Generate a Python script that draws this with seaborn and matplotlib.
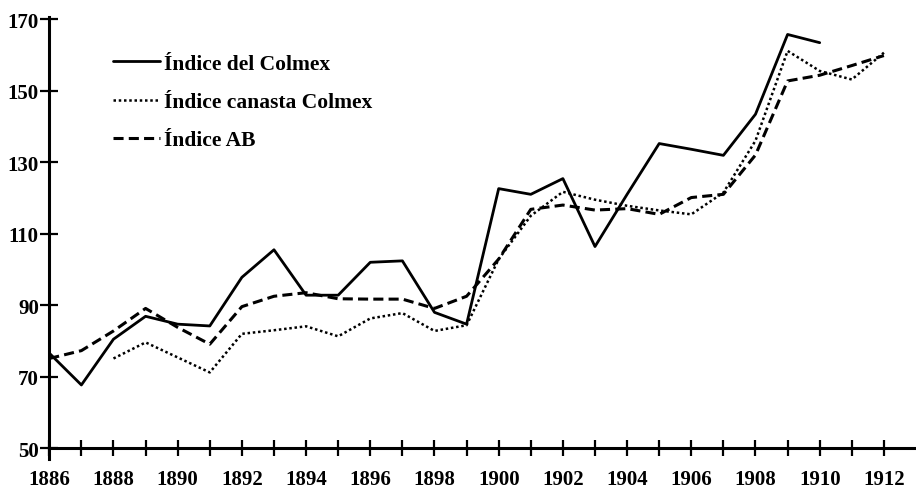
import matplotlib
matplotlib.use('Agg')

import seaborn as sns
import pandas as pd
import matplotlib.pyplot as plt

# values
years_colmex = list(range(1886, 1911))
indice_colmex = [76.6, 67.7, 80.5, 86.9, 84.7, 84.2, 97.8, 105.5, 92.8, 92.8,
                 102.0, 102.4, 88.0, 84.7, 122.6, 121.0, 125.4, 106.4, 121.0, 135.2,
                 133.6, 131.9, 143.4, 165.7, 163.4]

years_canasta = list(range(1888, 1913))
indice_canasta = [75.1, 79.6, 75.4, 71.2, 82.0, 83.0, 84.1, 81.3, 86.3, 87.8,
                  82.8, 84.4, 102.9, 115.0, 121.7, 119.5, 117.8, 116.5, 115.4, 121.5,
                  136.0, 161.1, 155.5, 153.1, 160.6]

years_ab = list(range(1886, 1913))
indice_ab = [75.1, 77.3, 82.8, 89.1, 83.8, 79.1, 89.6, 92.5, 93.5, 91.8,
             91.7, 91.7, 89.1, 92.5, 102.9, 116.8, 118.0, 116.6, 117.0, 115.4,
             120.1, 121.0, 132.0, 152.7, 154.3, 157.0, 159.8]

labels = ["Índice del Colmex", "Índice canasta Colmex", "Índice AB"]
y_ticks = [50, 70, 90, 110, 130, 150, 170]
x_ticks = list(range(1886, 1913))

sns.set_style("white")
plt.rcParams['font.family'] = ['Liberation Serif', 'DejaVu Serif']
plt.rcParams['font.weight'] = 'bold'
plt.rcParams['text.color'] = 'black'

fig = plt.figure(figsize=(9.16, 4.89), dpi=100)
ax = fig.add_axes([0.0538, 0.0593, 0.9462, 0.9033])

sns.lineplot(x=years_colmex, y=indice_colmex, ax=ax, color="black", lw=2.0,
             label=labels[0])
sns.lineplot(x=years_canasta, y=indice_canasta, ax=ax, color="black", lw=1.8,
             linestyle=(0, (1, 1.1)), label=labels[1])
sns.lineplot(x=years_ab, y=indice_ab, ax=ax, color="black", lw=2.2,
             linestyle=(0, (3.3, 1.7)), label=labels[2])

ax.set_xlim(1886, 1913)
ax.set_ylim(47, 170.5)

for s in ["top", "right"]:
    ax.spines[s].set_visible(False)
ax.spines["bottom"].set_position(("data", 50))
for s in ["left", "bottom"]:
    ax.spines[s].set_linewidth(2.2)
    ax.spines[s].set_color("black")

ax.set_xticks(x_ticks)
ax.set_xticklabels([str(y) if y % 2 == 0 else "" for y in x_ticks])
ax.set_yticks(y_ticks)
ax.set_yticklabels([str(v) for v in y_ticks])
ax.tick_params(axis="x", bottom=True, direction="inout", length=11.5, width=1.6,
               pad=9.5, labelsize=15, colors="black")
ax.tick_params(axis="y", left=True, direction="inout", length=13, width=1.6,
               pad=1, labelsize=15, colors="black")
ax.set_xlabel("")
ax.set_ylabel("")

ax.legend(loc="upper left", bbox_to_anchor=(0.061, 0.942), frameon=False,
          borderpad=0, handlelength=2.2, handletextpad=0.15, labelspacing=0.85,
          labelcolor="black",
          prop={"family": "Liberation Serif", "weight": "bold", "size": 15.5})

fig.savefig("out.png", dpi=100)
